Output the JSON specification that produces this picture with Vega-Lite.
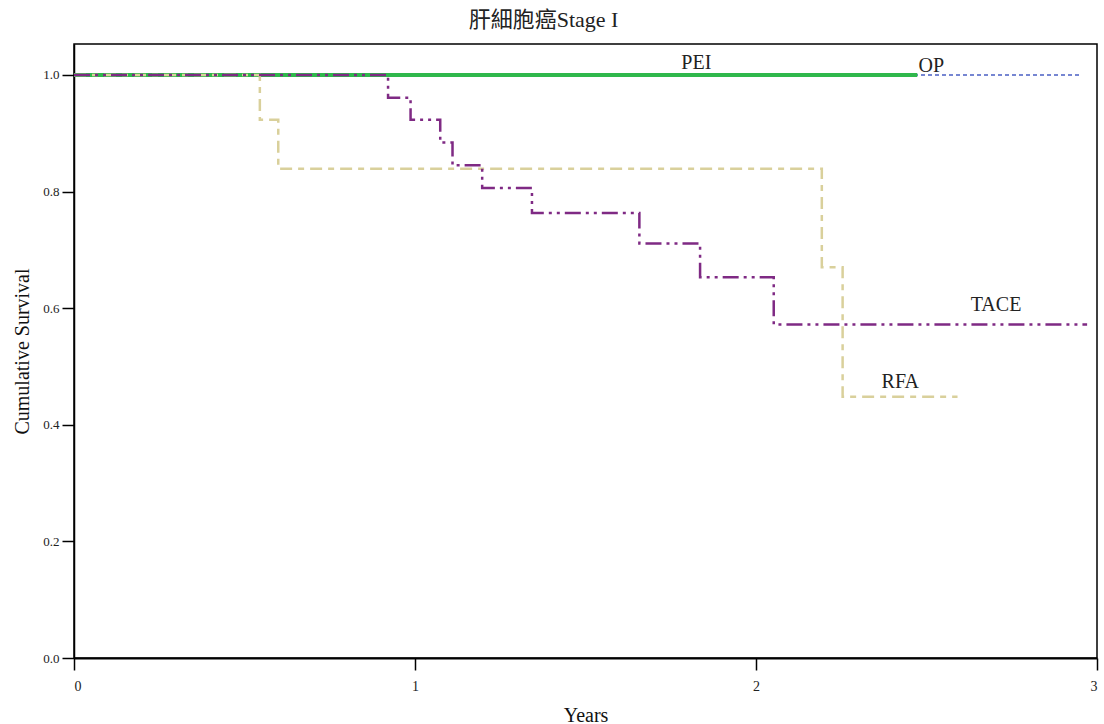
{
  "$schema": "https://vega.github.io/schema/vega-lite/v6.json",
  "width": 1023,
  "height": 614,
  "autosize": {"type": "none"},
  "padding": {"left": 74, "top": 44, "right": 7, "bottom": 66},
  "background": "white",
  "title": {
    "text": "肝細胞癌Stage I",
    "font": "Liberation Serif, Noto Sans CJK TC",
    "fontSize": 22,
    "fontWeight": "normal",
    "color": "#222",
    "anchor": "middle",
    "dx": -42,
    "offset": 12
  },
  "config": {
    "view": {"stroke": "#000", "strokeWidth": 1.5},
    "axis": {
      "labelFont": "Liberation Serif",
      "titleFont": "Liberation Serif",
      "labelColor": "#222",
      "titleColor": "#111",
      "domainColor": "#000",
      "tickColor": "#000",
      "grid": false,
      "titleFontWeight": "normal"
    }
  },
  "data": {
    "values": [
      {"series": "OP", "t": 0, "v": 1.0},
      {"series": "OP", "t": 2.95, "v": 1.0},
      {"series": "PEI", "t": 0, "v": 1.0},
      {"series": "PEI", "t": 2.473, "v": 1.0},
      {"series": "RFA", "t": 0, "v": 1.0},
      {"series": "RFA", "t": 0.545, "v": 0.923},
      {"series": "RFA", "t": 0.599, "v": 0.839},
      {"series": "RFA", "t": 2.193, "v": 0.670},
      {"series": "RFA", "t": 2.254, "v": 0.448},
      {"series": "RFA", "t": 2.591, "v": 0.448},
      {"series": "TACE", "t": 0, "v": 1.0},
      {"series": "TACE", "t": 0.921, "v": 0.961},
      {"series": "TACE", "t": 0.987, "v": 0.923},
      {"series": "TACE", "t": 1.074, "v": 0.884},
      {"series": "TACE", "t": 1.110, "v": 0.845},
      {"series": "TACE", "t": 1.197, "v": 0.806},
      {"series": "TACE", "t": 1.343, "v": 0.763},
      {"series": "TACE", "t": 1.658, "v": 0.711},
      {"series": "TACE", "t": 1.836, "v": 0.653},
      {"series": "TACE", "t": 2.052, "v": 0.572},
      {"series": "TACE", "t": 2.971, "v": 0.572}
    ]
  },
  "encoding": {
    "x": {
      "field": "t",
      "type": "quantitative",
      "scale": {"domain": [0, 3], "nice": false, "zero": false},
      "axis": {
        "title": "Years",
        "titleFontSize": 20,
        "titlePadding": 12,
        "values": [0, 1, 2, 3],
        "format": "d",
        "tickSize": 12,
        "tickWidth": 1.5,
        "domainWidth": 2,
        "labelFontSize": 14,
        "labelPadding": 9
      }
    },
    "y": {
      "field": "v",
      "type": "quantitative",
      "scale": {"domain": [0, 1.053], "nice": false},
      "axis": {
        "title": "Cumulative Survival",
        "titleFontSize": 20,
        "titlePadding": 10,
        "values": [0, 0.2, 0.4, 0.6, 0.8, 1.0],
        "format": ".1f",
        "tickSize": 12,
        "tickWidth": 1.5,
        "domainWidth": 1.5,
        "labelFontSize": 13,
        "labelPadding": 3
      }
    }
  },
  "layer": [
    {
      "transform": [{"filter": "datum.series === 'OP'"}],
      "mark": {"type": "line", "interpolate": "step-after", "color": "#4a5fc4", "strokeWidth": 1.5, "strokeDash": [4, 3]}
    },
    {
      "transform": [{"filter": "datum.series === 'PEI'"}],
      "mark": {"type": "line", "interpolate": "step-after", "color": "#2fb84c", "strokeWidth": 4}
    },
    {
      "transform": [{"filter": "datum.series === 'RFA'"}],
      "mark": {"type": "line", "interpolate": "step-after", "color": "#d9d09b", "strokeWidth": 2.5, "strokeDash": [12, 6, 6, 6]}
    },
    {
      "transform": [{"filter": "datum.series === 'TACE'"}],
      "mark": {"type": "line", "interpolate": "step-after", "color": "#7f2a84", "strokeWidth": 2.5, "strokeDash": [16, 5, 3, 5, 3, 5]}
    },
    {
      "data": {
        "values": [
          {"label": "PEI", "t": 1.825, "v": 1.021},
          {"label": "OP", "t": 2.514, "v": 1.016},
          {"label": "TACE", "t": 2.704, "v": 0.605},
          {"label": "RFA", "t": 2.423, "v": 0.474}
        ]
      },
      "mark": {"type": "text", "font": "Liberation Serif", "fontSize": 20, "color": "#222", "align": "center", "baseline": "middle"},
      "encoding": {"text": {"field": "label"}}
    }
  ]
}
